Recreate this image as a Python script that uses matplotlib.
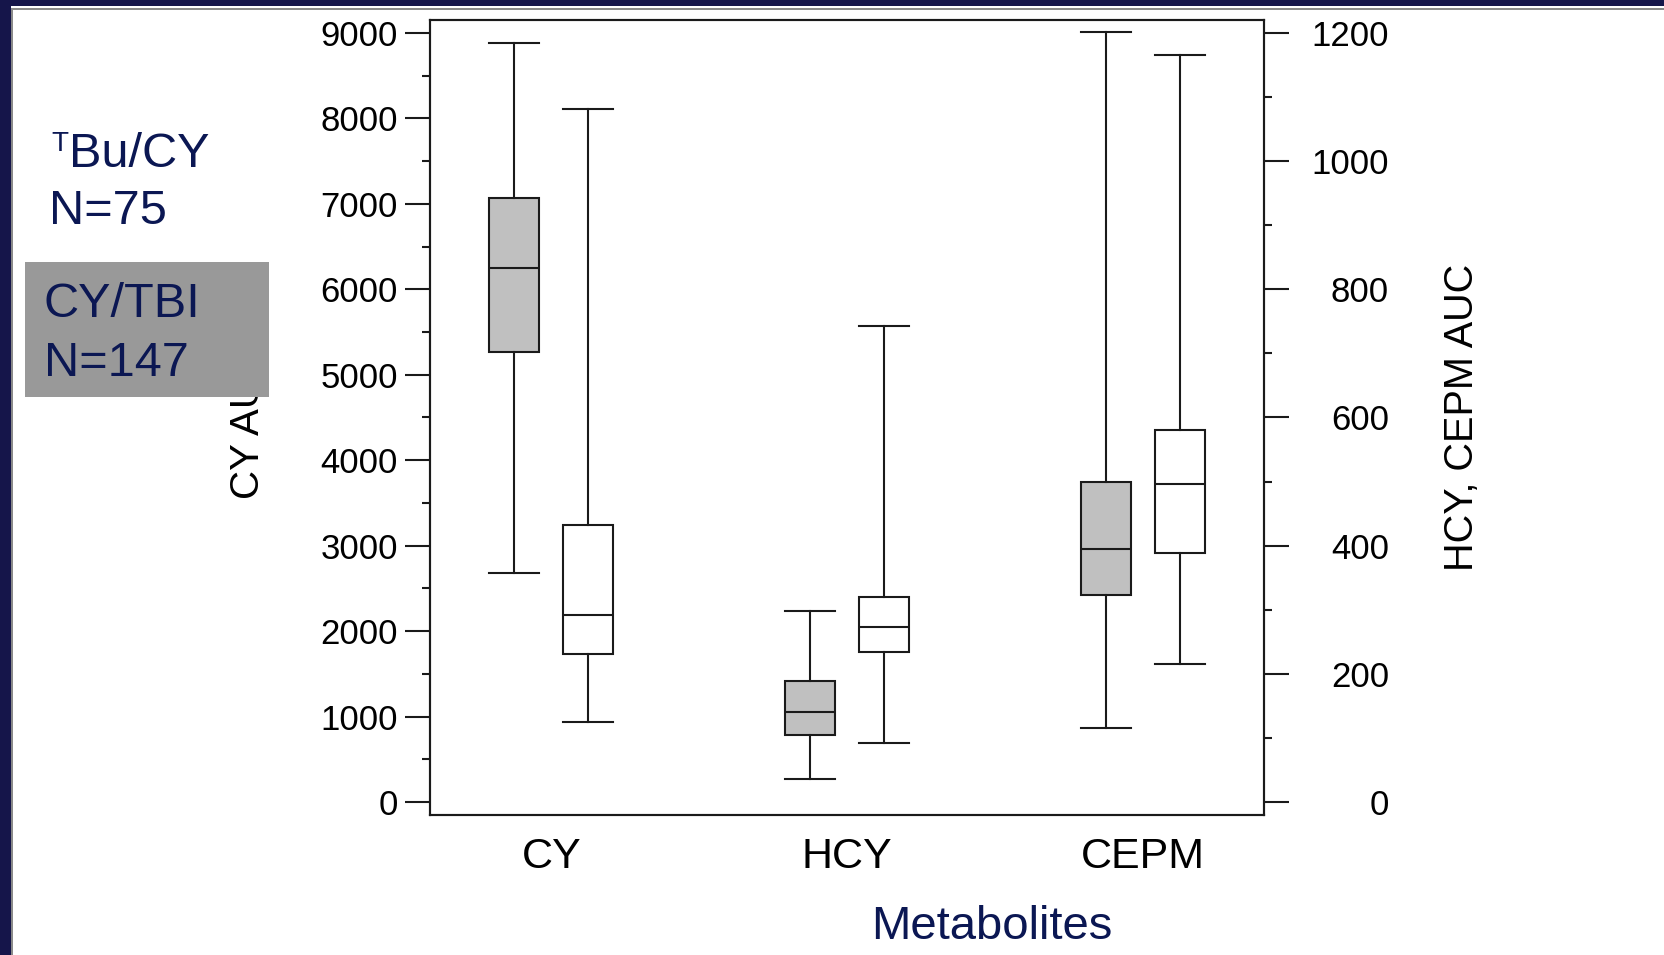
import matplotlib
matplotlib.use("Agg")
import matplotlib.pyplot as plt
from matplotlib.patches import Rectangle
from matplotlib.ticker import MultipleLocator

plt.rcParams['font.family'] = ['Liberation Sans', 'DejaVu Sans']

# ---------------- data ----------------
categories = ['CY', 'HCY', 'CEPM']
groups = ['TBu/CY', 'CY/TBI']
# five-number summaries: lower whisker, Q1, median, Q3, upper whisker
cy_tbu = [2676, 5271, 6254, 7073, 8879]      # left axis (CY AUC)
cy_tbi = [936, 1737, 2193, 3246, 8107]
hcy_tbu = [36, 104, 140, 189, 298]           # right axis (HCY, CEPM AUC)
hcy_tbi = [92, 235, 274, 320, 743]
cepm_tbu = [115, 323, 395, 499, 1201]
cepm_tbi = [216, 389, 496, 581, 1166]
left_ticks = [0, 1000, 2000, 3000, 4000, 5000, 6000, 7000, 8000, 9000]
right_ticks = [0, 200, 400, 600, 800, 1000, 1200]

# ---------------- layout ----------------
W, H = 1665, 955
fig = plt.figure(figsize=(W / 100, H / 100), dpi=100)
fig.patch.set_facecolor('white')

def fx(x):
    return x / W

def fy(y):
    return 1 - y / H

ax = fig.add_axes([fx(430), fy(815), (1264 - 430) / W, (815 - 20) / H])
ax2 = ax.twinx()

LW = 1.5
GRAY = '#c0c0c0'
EDGE = '#1a1a1a'
offset = 0.125
bw = 0.17

def stats(v):
    return dict(whislo=v[0], q1=v[1], med=v[2], q3=v[3], whishi=v[4], fliers=[])

def draw(axis, vals, pos, fill):
    axis.bxp([stats(vals)], positions=[pos], widths=bw, capwidths=bw,
             showfliers=False, patch_artist=True,
             boxprops=dict(facecolor=fill, edgecolor=EDGE, linewidth=LW),
             medianprops=dict(color=EDGE, linewidth=LW),
             whiskerprops=dict(color=EDGE, linewidth=LW),
             capprops=dict(color=EDGE, linewidth=LW))

draw(ax, cy_tbu, 1 - offset, GRAY)
draw(ax, cy_tbi, 1 + offset, 'white')
draw(ax2, hcy_tbu, 2 - offset, GRAY)
draw(ax2, hcy_tbi, 2 + offset, 'white')
draw(ax2, cepm_tbu, 3 - offset, GRAY)
draw(ax2, cepm_tbi, 3 + offset, 'white')

ax.set_xlim(0.59, 3.41)
ax.set_ylim(-150, 9150)
ax2.set_ylim(-20, 1220)

ax.set_xticks([1, 2, 3])
ax.set_xticklabels(categories)
ax.tick_params(axis='x', length=0, labelsize=31, pad=16)

ax.set_yticks(left_ticks)
ax.yaxis.set_minor_locator(MultipleLocator(500))
ax.tick_params(axis='y', which='major', length=18, width=LW, labelsize=25, pad=5, color=EDGE)
ax.tick_params(axis='y', which='minor', length=6, width=LW, color=EDGE)

ax2.set_yticks(right_ticks)
ax2.yaxis.set_minor_locator(MultipleLocator(100))
ax2.tick_params(axis='y', which='major', length=18, width=LW, labelsize=25, pad=72, color=EDGE)
ax2.tick_params(axis='y', which='minor', length=6, width=LW, color=EDGE)
for lab in ax2.get_yticklabels():
    lab.set_horizontalalignment('right')

for a in (ax, ax2):
    for s in a.spines.values():
        s.set_linewidth(LW)
        s.set_color(EDGE)

# axis titles
fig.text(fx(248), fy(424), 'CY AUC', rotation=90, ha='center', va='center', fontsize=29, color='black')
fig.text(fx(1462), fy(417), 'HCY, CEPM AUC', rotation=90, ha='center', va='center', fontsize=28.5, color='black')
NAVY = '#0b1753'
fig.text(fx(992), fy(939), 'Metabolites', ha='center', va='baseline', fontsize=34, color=NAVY)

# group annotations
fig.text(fx(51), fy(151), 'T', ha='left', va='baseline', fontsize=20, color=NAVY)
fig.text(fx(69), fy(167), 'Bu/CY', ha='left', va='baseline', fontsize=35, color=NAVY)
fig.text(fx(49), fy(224), 'N=75', ha='left', va='baseline', fontsize=35, color=NAVY)

fig.add_artist(Rectangle((fx(25), fy(397)), (269 - 25) / W, (397 - 262) / H,
                         transform=fig.transFigure, facecolor='#999999', edgecolor='none', zorder=10))
fig.text(fx(44), fy(317), 'CY/TBI', ha='left', va='baseline', fontsize=35, color=NAVY, zorder=11)
fig.text(fx(44), fy(376), 'N=147', ha='left', va='baseline', fontsize=35, color=NAVY, zorder=11)

# slide frame
DARK = '#15154a'
fig.add_artist(Rectangle((0, fy(6)), 1, 6 / H, transform=fig.transFigure,
                         facecolor=DARK, edgecolor='none', zorder=12))
fig.add_artist(Rectangle((0, 0), 11 / W, 1, transform=fig.transFigure,
                         facecolor=DARK, edgecolor='none', zorder=12))
fig.add_artist(Rectangle((fx(11), fy(10)), 1, 2 / H, transform=fig.transFigure,
                         facecolor='#8a8a8a', edgecolor='none', zorder=12))
fig.add_artist(Rectangle((fx(11), 0), 2 / W, fy(8), transform=fig.transFigure,
                         facecolor='#8a8a8a', edgecolor='none', zorder=12))

fig.savefig('out.png', dpi=100)
